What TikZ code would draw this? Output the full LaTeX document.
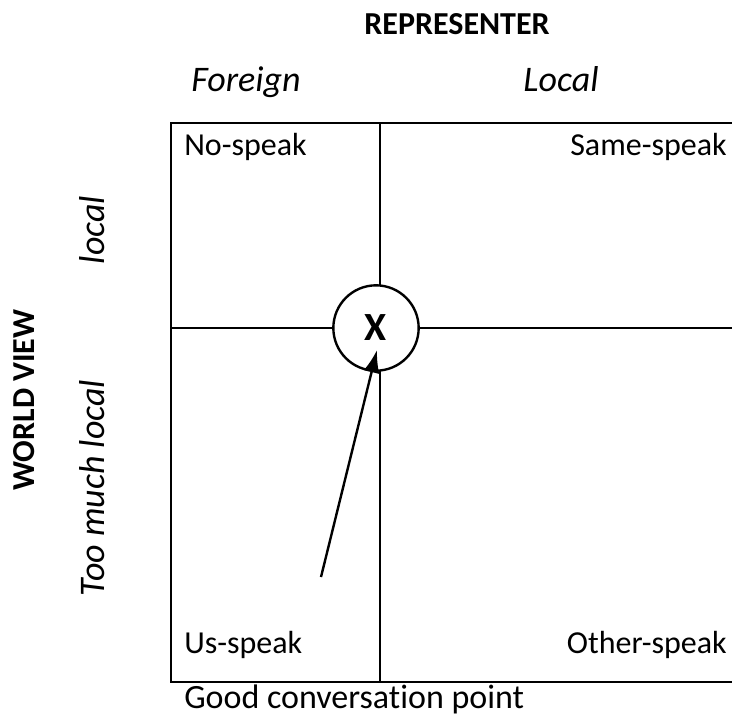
\documentclass[tikz,border=0pt]{standalone}
\usepackage{fontspec}
\setmainfont{Carlito}[Ligatures=NoCommon]
\usepackage{tikz}
\usetikzlibrary{arrows.meta}
\tikzset{
    grid-line/.style = {line width=1.8pt},
    quad-text/.style = {font=\fontsize{24}{28}\selectfont, inner sep=0pt},
    axis-title/.style = {font=\fontsize{24}{28}\selectfont\bfseries, inner sep=0pt},
    axis-value/.style = {font=\fontsize{27}{31}\selectfont\itshape, inner sep=0pt},
    meet-circle/.style = {draw, circle, line width=1.8pt, fill=white, minimum size=64pt, inner sep=0pt, font=\fontsize{30}{34}\selectfont\bfseries},
}

\begin{document}
\begin{tikzpicture}[x=0.75pt, y=-0.75pt]
\useasboundingbox (0,0) rectangle (732,717);
% frame, open at the right
\draw[grid-line] (740,123) -- (171,123) -- (171,682) -- (740,682);
\draw[grid-line] (380,123) -- (380,682);
\draw[grid-line] (171,328) -- (740,328);
\node[meet-circle] (cross) at (376,328) {X};
% labels
\node[axis-title, anchor=base] (repr) at (457,35) {REPRESENTER};
\node[axis-value, anchor=base] (foreign) at (246,92) {Foreign};
\node[axis-value, anchor=base] (local-col) at (561,92) {Local};
\node[axis-title, rotate=90] (world) at (24,400) {WORLD VIEW};
\node[axis-value, rotate=90] (local-row) at (92,230) {local};
\node[axis-value, rotate=90] (too-much) at (92,488) {Too much local};
\node[quad-text, anchor=base west] (no-speak) at (184,156) {No-speak};
\node[quad-text, anchor=base east] (same-speak) at (727,156) {Same-speak};
\node[quad-text, anchor=base west] (us-speak) at (184,653) {Us-speak};
\node[quad-text, anchor=base east] (other-speak) at (727,653) {Other-speak};
\node[quad-text, anchor=base west, font=\fontsize{25.5}{30}\selectfont] (good) at (184,708) {Good conversation point};
% pointer to the circle
\coordinate (tail) at (321,577);
\coordinate (tip) at (377,350);
\draw[line width=1.8pt, -{Latex[length=17pt, width=12pt]}] (tail) -- (tip);
\end{tikzpicture}
\end{document}
